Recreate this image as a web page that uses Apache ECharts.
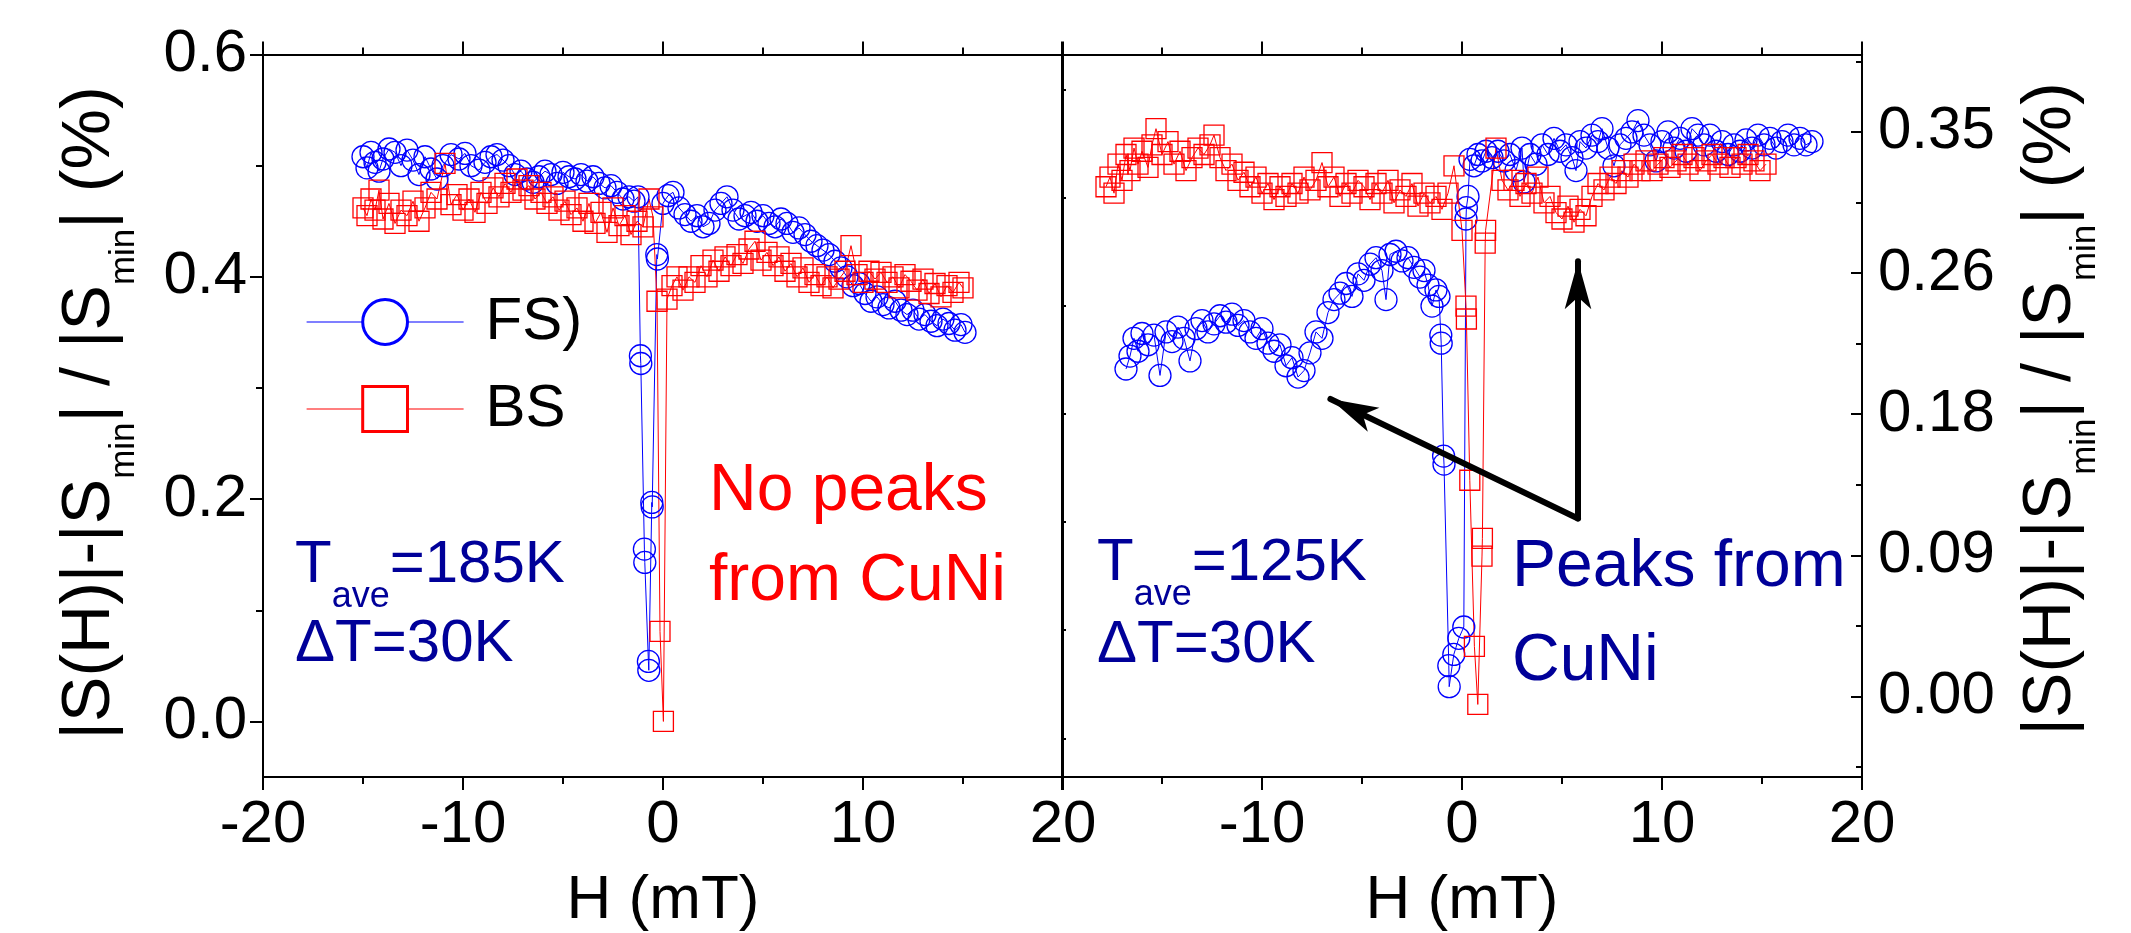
<!DOCTYPE html>
<html>
<head>
<meta charset="utf-8">
<title>|S(H)|-|Smin| / |Smin| vs H</title>
<script src="https://cdn.jsdelivr.net/npm/echarts@6/dist/echarts.min.js"></script>
<style>
  html, body { margin: 0; padding: 0; background: #fff; }
  #chart { width: 2131px; height: 933px; }
</style>
</head>
<body>
<div id="chart"></div>
<script>
// ---- data, [H (mT), value (%)] ----
// left panel, Tave = 185 K
var leftFS = [
  [-15.0,0.508],[-14.8,0.498],[-14.6,0.512],[-14.4,0.503],[-14.2,0.495],[-14.0,0.506],[-13.7,0.515],[-13.4,0.512],
  [-13.1,0.500],[-12.8,0.514],[-12.5,0.505],[-12.2,0.492],[-11.9,0.508],[-11.6,0.497],[-11.3,0.488],[-11.0,0.500],
  [-10.6,0.510],[-10.2,0.506],[-9.9,0.511],[-9.6,0.500],[-9.2,0.496],[-8.9,0.503],[-8.6,0.508],[-8.3,0.510],
  [-8.0,0.505],[-7.7,0.500],[-7.4,0.492],[-7.1,0.495],[-6.8,0.488],[-6.5,0.485],[-6.2,0.490],[-5.9,0.495],
  [-5.6,0.492],[-5.3,0.484],[-5.0,0.494],[-4.7,0.490],[-4.4,0.488],[-4.1,0.492],[-3.8,0.486],[-3.5,0.490],
  [-3.2,0.484],[-2.9,0.480],[-2.6,0.482],[-2.3,0.476],[-2.0,0.470],[-1.7,0.472],[-1.45,0.468],[-1.25,0.472],
  [-1.13,0.329],[-1.11,0.322],[-0.93,0.155],[-0.91,0.143],[-0.73,0.054],[-0.71,0.046],[-0.56,0.197],[-0.54,0.193],
  [-0.31,0.420],[-0.28,0.416],[0.0,0.466],[0.25,0.473],[0.5,0.476],[0.8,0.462],[1.1,0.456],[1.4,0.450],
  [1.7,0.455],[2.0,0.445],[2.3,0.448],[2.6,0.460],[2.9,0.466],[3.2,0.472],[3.5,0.460],[3.8,0.452],
  [4.1,0.455],[4.4,0.458],[4.7,0.450],[5.0,0.455],[5.3,0.448],[5.6,0.445],[5.9,0.452],[6.2,0.448],
  [6.5,0.440],[6.8,0.444],[7.1,0.438],[7.4,0.432],[7.7,0.428],[8.0,0.424],[8.3,0.420],[8.6,0.414],
  [8.9,0.408],[9.2,0.400],[9.5,0.392],[9.8,0.394],[10.1,0.385],[10.4,0.378],[10.7,0.382],[11.0,0.375],
  [11.3,0.372],[11.6,0.378],[11.9,0.370],[12.2,0.366],[12.5,0.370],[12.8,0.362],[13.1,0.366],[13.4,0.360],
  [13.7,0.356],[14.0,0.362],[14.3,0.358],[14.6,0.352],[14.9,0.357],[15.1,0.350]
];
var leftBS = [
  [-15.0,0.462],[-14.8,0.455],[-14.6,0.470],[-14.4,0.460],[-14.2,0.478],[-14.0,0.452],[-13.7,0.466],[-13.4,0.448],
  [-13.1,0.460],[-12.8,0.455],[-12.5,0.468],[-12.2,0.450],[-11.9,0.462],[-11.6,0.476],[-11.3,0.470],[-10.9,0.502],
  [-10.6,0.465],[-10.3,0.474],[-10.0,0.460],[-9.7,0.470],[-9.4,0.458],[-9.1,0.476],[-8.8,0.466],[-8.5,0.480],
  [-8.2,0.472],[-7.9,0.484],[-7.6,0.476],[-7.3,0.488],[-7.0,0.478],[-6.7,0.482],[-6.4,0.470],[-6.1,0.476],
  [-5.8,0.466],[-5.5,0.472],[-5.2,0.460],[-4.9,0.468],[-4.6,0.456],[-4.3,0.462],[-4.0,0.450],[-3.7,0.466],
  [-3.4,0.448],[-3.1,0.458],[-2.8,0.440],[-2.5,0.462],[-2.2,0.446],[-1.9,0.455],[-1.6,0.438],[-1.3,0.450],
  [-1.0,0.445],[-0.7,0.470],[-0.5,0.454],[-0.3,0.378],[-0.15,0.081],[0.02,0.000],[0.2,0.380],[0.45,0.392],
  [0.7,0.400],[1.0,0.388],[1.3,0.400],[1.6,0.395],[1.9,0.410],[2.2,0.400],[2.5,0.415],[2.8,0.405],
  [3.1,0.418],[3.4,0.410],[3.7,0.420],[4.0,0.412],[4.3,0.425],[4.6,0.432],[4.9,0.415],[5.2,0.422],
  [5.5,0.410],[5.8,0.418],[6.1,0.405],[6.4,0.412],[6.7,0.400],[7.0,0.408],[7.3,0.395],[7.6,0.402],
  [7.9,0.392],[8.2,0.400],[8.5,0.390],[8.8,0.398],[9.1,0.405],[9.4,0.428],[9.7,0.402],[10.0,0.395],
  [10.3,0.405],[10.6,0.398],[10.9,0.404],[11.2,0.395],[11.5,0.400],[11.8,0.390],[12.1,0.402],[12.4,0.396],
  [12.7,0.388],[13.0,0.398],[13.3,0.385],[13.6,0.394],[13.9,0.382],[14.2,0.392],[14.5,0.386],[14.8,0.395],
  [15.0,0.390]
];
// right panel, Tave = 125 K
var rightFS = [
  [-16.8,0.203],[-16.6,0.211],[-16.4,0.222],[-16.2,0.214],[-16.0,0.225],[-15.7,0.218],[-15.4,0.224],[-15.1,0.199],
  [-14.8,0.226],[-14.5,0.220],[-14.2,0.229],[-13.9,0.222],[-13.6,0.208],[-13.3,0.228],[-13.0,0.233],[-12.7,0.226],
  [-12.4,0.231],[-12.1,0.236],[-11.8,0.232],[-11.5,0.237],[-11.2,0.230],[-10.9,0.233],[-10.6,0.226],[-10.3,0.222],
  [-10.0,0.228],[-9.7,0.219],[-9.4,0.214],[-9.1,0.218],[-8.8,0.205],[-8.5,0.210],[-8.2,0.198],[-7.9,0.202],
  [-7.6,0.213],[-7.3,0.226],[-7.0,0.222],[-6.7,0.238],[-6.4,0.246],[-6.1,0.250],[-5.8,0.256],[-5.5,0.248],
  [-5.2,0.262],[-4.9,0.258],[-4.6,0.268],[-4.3,0.272],[-4.0,0.264],[-3.8,0.246],[-3.6,0.274],[-3.3,0.276],
  [-3.0,0.270],[-2.7,0.272],[-2.4,0.266],[-2.1,0.260],[-1.9,0.264],[-1.7,0.255],[-1.5,0.242],[-1.3,0.252],
  [-1.15,0.248],[-1.06,0.224],[-1.04,0.219],[-0.92,0.149],[-0.90,0.144],[-0.66,0.019],[-0.64,0.006],[-0.41,0.026],
  [-0.16,0.036],[0.09,0.043],[0.2,0.296],[0.22,0.303],[0.3,0.310],[0.4,0.333],[0.6,0.329],[0.8,0.336],
  [1.0,0.332],[1.2,0.338],[1.5,0.334],[1.8,0.338],[2.1,0.332],[2.4,0.336],[2.7,0.326],[3.0,0.340],
  [3.1,0.319],[3.4,0.336],[3.7,0.330],[4.0,0.342],[4.3,0.336],[4.6,0.346],[4.9,0.338],[5.2,0.342],
  [5.5,0.334],[5.7,0.326],[5.9,0.344],[6.2,0.340],[6.5,0.348],[6.8,0.344],[7.0,0.352],[7.3,0.340],
  [7.6,0.329],[7.9,0.342],[8.2,0.346],[8.5,0.350],[8.8,0.357],[9.1,0.348],[9.4,0.342],[9.7,0.332],
  [10.0,0.344],[10.3,0.350],[10.6,0.340],[10.9,0.346],[11.2,0.338],[11.5,0.352],[11.8,0.348],[12.1,0.342],
  [12.4,0.348],[12.7,0.338],[13.0,0.344],[13.3,0.336],[13.6,0.342],[13.9,0.338],[14.2,0.345],[14.5,0.340],
  [14.8,0.348],[15.1,0.342],[15.4,0.346],[15.7,0.340],[16.0,0.344],[16.3,0.348],[16.6,0.342],[16.9,0.346],
  [17.2,0.342],[17.5,0.344]
];
var rightBS = [
  [-17.8,0.316],[-17.6,0.322],[-17.4,0.312],[-17.2,0.330],[-17.0,0.320],[-16.8,0.336],[-16.6,0.326],[-16.4,0.340],
  [-16.2,0.330],[-16.0,0.338],[-15.7,0.328],[-15.5,0.342],[-15.3,0.352],[-15.0,0.336],[-14.7,0.344],[-14.4,0.330],
  [-14.1,0.338],[-13.8,0.326],[-13.5,0.334],[-13.2,0.340],[-12.9,0.336],[-12.6,0.342],[-12.4,0.348],[-12.1,0.334],
  [-11.8,0.326],[-11.5,0.330],[-11.2,0.320],[-10.9,0.325],[-10.6,0.316],[-10.3,0.322],[-10.0,0.312],[-9.7,0.318],
  [-9.4,0.308],[-9.1,0.316],[-8.8,0.310],[-8.5,0.318],[-8.2,0.312],[-7.9,0.322],[-7.6,0.314],[-7.3,0.320],
  [-7.0,0.331],[-6.7,0.316],[-6.4,0.322],[-6.1,0.310],[-5.8,0.318],[-5.5,0.312],[-5.2,0.320],[-4.9,0.316],
  [-4.6,0.308],[-4.3,0.318],[-4.0,0.312],[-3.7,0.320],[-3.4,0.306],[-3.1,0.314],[-2.8,0.310],[-2.5,0.318],
  [-2.2,0.304],[-1.9,0.312],[-1.6,0.306],[-1.3,0.310],[-1.0,0.302],[-0.7,0.312],[-0.4,0.329],[0.0,0.289],
  [0.2,0.242],[0.22,0.234],[0.39,0.134],[0.62,0.031],[0.79,-0.005],[1.0,0.087],[1.02,0.098],[1.16,0.281],
  [1.18,0.289],[1.7,0.340],[2.0,0.320],[2.3,0.314],[2.6,0.320],[2.9,0.310],[3.2,0.318],[3.5,0.312],
  [3.8,0.322],[4.1,0.306],[4.4,0.310],[4.7,0.300],[5.0,0.296],[5.3,0.304],[5.6,0.294],[5.9,0.302],
  [6.2,0.298],[6.5,0.310],[6.8,0.318],[7.1,0.314],[7.4,0.322],[7.7,0.318],[8.0,0.326],[8.3,0.322],
  [8.6,0.330],[8.9,0.326],[9.2,0.332],[9.5,0.326],[9.8,0.330],[10.1,0.334],[10.4,0.328],[10.7,0.332],
  [11.0,0.336],[11.3,0.330],[11.6,0.334],[11.9,0.326],[12.2,0.332],[12.5,0.336],[12.8,0.330],[13.1,0.334],
  [13.4,0.328],[13.7,0.334],[14.0,0.330],[14.3,0.336],[14.6,0.332],[14.9,0.326],[15.2,0.330]
];

// ---- ticks ----
var leftYTicks = [0, 0.2, 0.4, 0.6];
var leftYMinor = [0.1, 0.3, 0.5];
var rightYTicks = [0, 0.0875, 0.175, 0.2625, 0.35];
var rightYLabels = ['0.00', '0.09', '0.18', '0.26', '0.35'];
var rightYMinor = [-0.04375, 0.04375, 0.13125, 0.21875, 0.30625, 0.39375];
var rightInnerTicks = [-0.026, 0.0411, 0.1081, 0.1752, 0.2423, 0.3093, 0.3764];

var FONT = '"Liberation Sans", Arial, Helvetica, sans-serif';
var BLUE = '#0000ff', RED = '#ff0000', NAVY = '#000099';
var AXIS = { color: '#000', width: 2 };

function xAxisFor(grid, pos, labels, hideMin) {
  return {
    type: 'value', gridIndex: grid, position: pos, min: -20, max: 20, interval: 10,
    axisLine: { show: true, onZero: false, lineStyle: AXIS },
    axisTick: { show: true, inside: false, length: 13, lineStyle: AXIS },
    minorTick: { show: true, splitNumber: 2, length: 7, lineStyle: AXIS },
    splitLine: { show: false },
    axisLabel: { show: labels, showMinLabel: !hideMin, margin: 18, fontSize: 60, fontFamily: FONT, color: '#000' },
    name: labels ? 'H (mT)' : '', nameLocation: 'middle', nameGap: 93, nameMoveOverlap: false,
    nameTextStyle: { fontSize: 62, fontFamily: FONT, color: '#000' }
  };
}

function yAxisFor(grid, pos, min, max, line) {
  return {
    type: 'value', gridIndex: grid, position: pos, min: min, max: max,
    axisLine: { show: line, onZero: false, lineStyle: AXIS },
    axisTick: { show: false }, axisLabel: { show: false }, splitLine: { show: false }
  };
}

var yLeft = yAxisFor(0, 'left', -0.05, 0.6, true);
yLeft.axisTick = { show: true, inside: false, length: 13, lineStyle: AXIS, customValues: leftYTicks };
yLeft.axisLabel = { show: true, customValues: leftYTicks, margin: 16, fontSize: 60, fontFamily: FONT, color: '#000',
  formatter: function (v) { return v.toFixed(1); } };

var yLeftMinor = yAxisFor(0, 'left', -0.05, 0.6, false);
yLeftMinor.axisTick = { show: true, inside: false, length: 7, lineStyle: AXIS, customValues: leftYMinor };

var yLeftBorder = yAxisFor(0, 'right', -0.05, 0.6, true);

var yRight = yAxisFor(1, 'right', -0.05, 0.398, true);
yRight.axisTick = { show: true, inside: true, length: 11, lineStyle: AXIS, customValues: rightYTicks };
yRight.axisLabel = { show: true, customValues: rightYTicks, margin: 16, fontSize: 60, fontFamily: FONT, color: '#000',
  formatter: function (v) {
    for (var i = 0; i < rightYTicks.length; i++) {
      if (Math.abs(rightYTicks[i] - v) < 1e-6) return rightYLabels[i];
    }
    return '';
  } };

var yRightMinor = yAxisFor(1, 'right', -0.05, 0.398, false);
yRightMinor.axisTick = { show: true, inside: true, length: 6, lineStyle: AXIS, customValues: rightYMinor };

var yRightBorder = yAxisFor(1, 'left', -0.05, 0.398, true);
yRightBorder.axisTick = { show: true, inside: true, length: 4, lineStyle: AXIS, customValues: rightInnerTicks };

function makeSeries(name, data, xi, yi, color, symbol, size) {
  return {
    type: 'line', name: name, data: data, xAxisIndex: xi, yAxisIndex: yi,
    symbol: symbol, symbolSize: size, showSymbol: true,
    itemStyle: { color: 'rgba(0,0,0,0)', borderColor: color, borderWidth: 1.3 },
    lineStyle: { color: color, width: 1 },
    emphasis: { disabled: true }, animation: false
  };
}

function rich(color, size, sub, subLine) {
  return {
    m: { font: size + 'px ' + FONT, lineHeight: size, verticalAlign: 'top', fill: color },
    s: { font: sub + 'px ' + FONT, lineHeight: subLine, verticalAlign: 'bottom', fill: color }
  };
}

function label(x, y, text, color, size) {
  return {
    type: 'text', x: x, y: y, silent: true, z: 100,
    style: { text: text, rich: rich(color, size, 36, 80), font: size + 'px ' + FONT,
      fill: color, align: 'left', verticalAlign: 'top' }
  };
}

var yTitle = '{m||S(H)|-|S}{s|min}{m|| / |S}{s|min}{m|| (%)}';
function yTitleAt(x, y) {
  return {
    type: 'text', x: x, y: y, rotation: Math.PI / 2, silent: true, z: 100,
    style: { text: yTitle, rich: rich('#000', 68, 35, 86), font: '68px ' + FONT,
      fill: '#000', align: 'center', verticalAlign: 'top' }
  };
}

// two arrows from one tail, pointing at the CuNi features
var fsRight = makeSeries('FS)', rightFS, 2, 3, BLUE, 'circle', 22);
fsRight.markLine = {
  silent: true, animation: false, symbol: ['none', 'arrow'], symbolSize: [[20, 48], [20, 48]],
  label: { show: false }, emphasis: { disabled: true },
  lineStyle: { color: '#000', width: 6, type: 'solid', cap: 'round' },
  data: [
    [{ coord: [5.8, 0.1103], symbol: 'none' }, { coord: [5.8, 0.2698], symbol: 'arrow', symbolSize: [20, 48] }],
    [{ coord: [5.8, 0.1103], symbol: 'none' }, { coord: [-6.58, 0.1844], symbol: 'arrow', symbolSize: [20, 48] }]
  ]
};

var chart = echarts.init(document.getElementById('chart'));
chart.setOption({
  animation: false,
  backgroundColor: '#fff',
  grid: [
    { left: 263, top: 54.5, width: 800, height: 722.5, outerBoundsMode: 'none', containLabel: false },
    { left: 1062, top: 54.5, width: 800, height: 722.5, outerBoundsMode: 'none', containLabel: false }
  ],
  xAxis: [
    xAxisFor(0, 'bottom', true, false),
    xAxisFor(0, 'top', false, false),
    xAxisFor(1, 'bottom', true, true),
    xAxisFor(1, 'top', false, false)
  ],
  yAxis: [yLeft, yLeftMinor, yLeftBorder, yRight, yRightMinor, yRightBorder],
  legend: {
    data: ['FS)', 'BS'], orient: 'vertical', left: 306, top: 292, padding: 0,
    itemWidth: 157, itemHeight: 56, itemGap: 27, selectedMode: false,
    itemStyle: { color: '#fff', borderWidth: 3 },
    lineStyle: { width: 1.2 },
    textStyle: { fontSize: 60, fontFamily: FONT, color: '#000', lineHeight: 56, padding: [0, 0, 0, 17] }
  },
  series: [
    makeSeries('FS)', leftFS, 0, 0, BLUE, 'circle', 22),
    makeSeries('BS', leftBS, 0, 0, RED, 'rect', 20),
    fsRight,
    makeSeries('BS', rightBS, 2, 3, RED, 'rect', 20)
  ],
  graphic: [
    yTitleAt(56, 413),
    yTitleAt(2017, 409),
    label(295, 535, '{m|T}{s|ave}{m|=185K}', NAVY, 60),
    label(295, 614, '{m|\u0394T=30K}', NAVY, 60),
    label(1097, 533, '{m|T}{s|ave}{m|=125K}', NAVY, 60),
    label(1097, 615, '{m|\u0394T=30K}', NAVY, 60),
    label(709, 459, '{m|No peaks}', RED, 66),
    label(709, 549, '{m|from CuNi}', RED, 66),
    label(1512, 535, '{m|Peaks from}', NAVY, 66),
    label(1512, 629, '{m|CuNi}', NAVY, 66)
  ]
});
</script>
</body>
</html>
